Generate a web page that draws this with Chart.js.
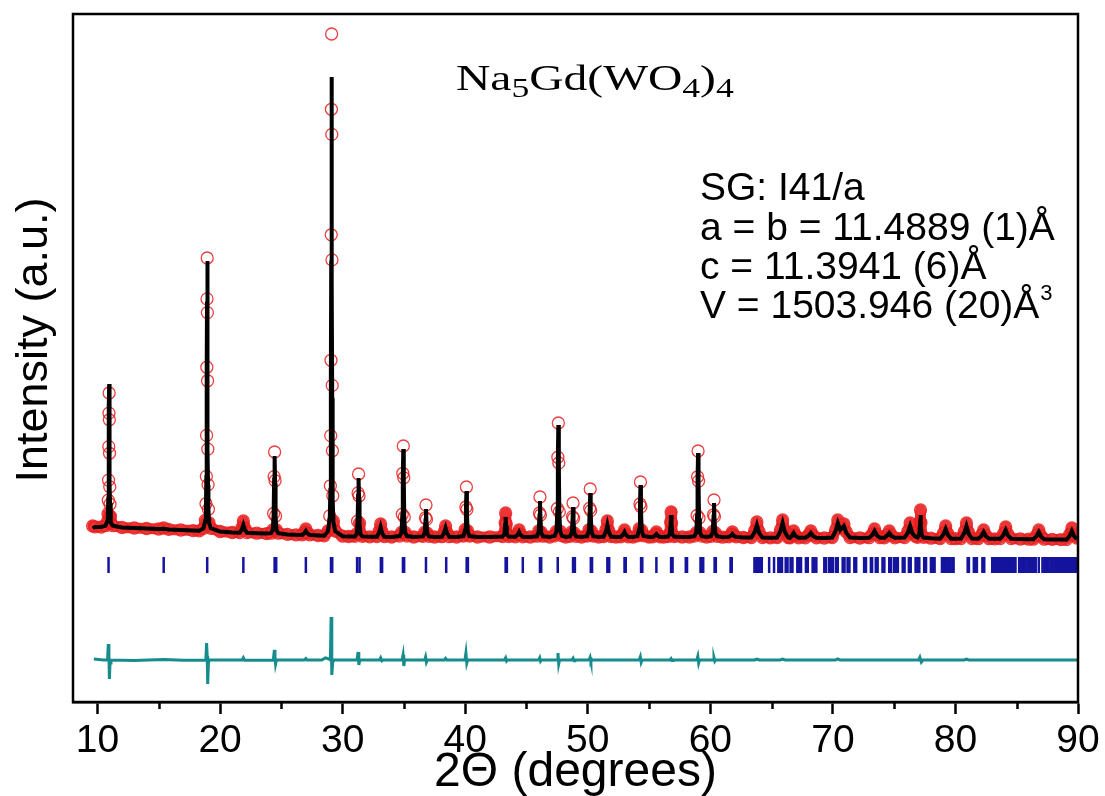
<!DOCTYPE html>
<html>
<head>
<meta charset="utf-8">
<script src="https://cdn.jsdelivr.net/npm/chart.js@4.4.1/dist/chart.umd.min.js"></script>
<style>
  html, body { margin: 0; padding: 0; background: #ffffff; }
  canvas { display: block; }
</style>
</head>
<body>
<canvas id="c" width="1105" height="796"></canvas>
<script>
// ---------- DATA ----------
const xTickValues = [10, 20, 30, 40, 50, 60, 70, 80, 90];
const xMinorTicks = [15, 25, 35, 45, 55, 65, 75, 85];

// 2-theta positions shared by observed and calculated profiles
const twoTheta = [
  9.6, 9.8, 10.3,
  10.65, 10.8, 10.85, 10.88, 10.9, 10.92, 10.935, 10.95, 10.965, 10.98, 11.0, 11.02, 11.05, 11.1, 11.25,
  12.0, 13.0, 14.0, 15.0, 15.4, 15.8, 16.8, 17.8, 18.3,
  18.65, 18.8, 18.85, 18.88, 18.9, 18.92, 18.935, 18.95, 18.965, 18.98, 19.0, 19.02, 19.05, 19.1, 19.25,
  20.0, 21.0,
  21.6, 21.78, 21.9, 22.02, 22.2,
  23.0, 23.8,
  24.15, 24.3, 24.37, 24.41, 24.45, 24.49, 24.53, 24.6, 24.75,
  25.5, 26.2,
  26.7, 26.88, 27.0, 27.12, 27.3,
  28.0, 28.5,
  28.8, 28.95, 29.0, 29.03, 29.05, 29.07, 29.085, 29.1, 29.115, 29.13, 29.15, 29.17, 29.2, 29.25, 29.4,
  30.0, 30.5,
  31.0, 31.15, 31.22, 31.26, 31.3, 31.34, 31.38, 31.45, 31.6,
  32.2,
  32.8, 32.98, 33.1, 33.22, 33.4,
  34.0,
  34.65, 34.8, 34.87, 34.91, 34.95, 34.99, 35.03, 35.1, 35.25,
  35.8,
  36.55, 36.7, 36.76, 36.8, 36.84, 36.9, 37.05,
  37.5,
  38.1, 38.28, 38.4, 38.52, 38.7,
  39.3,
  39.85, 40.0, 40.06, 40.1, 40.14, 40.2, 40.35,
  41.0, 42.0,
  43.05, 43.2, 43.26, 43.3, 43.34, 43.4, 43.55,
  44.1, 44.28, 44.4, 44.52, 44.7,
  45.3,
  45.85, 46.0, 46.06, 46.1, 46.14, 46.2, 46.35,
  46.9,
  47.3, 47.45, 47.52, 47.56, 47.6, 47.64, 47.68, 47.75, 47.9,
  48.2,
  48.55, 48.7, 48.76, 48.8, 48.84, 48.9, 49.05,
  49.5,
  49.95, 50.1, 50.16, 50.2, 50.24, 50.3, 50.45,
  50.9,
  51.3, 51.48, 51.6, 51.72, 51.9,
  52.3,
  52.7, 52.88, 53.0, 53.12, 53.3,
  53.7,
  54.05, 54.2, 54.26, 54.3, 54.34, 54.4, 54.55,
  55.0,
  55.3, 55.48, 55.6, 55.72, 55.9,
  56.2,
  56.55, 56.7, 56.76, 56.8, 56.84, 56.9, 57.05,
  57.7, 58.3,
  58.7, 58.85, 58.92, 58.96, 59.0, 59.04, 59.08, 59.15, 59.3,
  59.7,
  60.05, 60.2, 60.26, 60.3, 60.34, 60.4, 60.55,
  61.0,
  61.5, 61.68, 61.8, 61.92, 62.1,
  62.7,
  63.35, 63.62, 63.8, 63.98, 64.25,
  64.9,
  65.45, 65.72, 65.9, 66.08, 66.35,
  66.5, 66.65, 66.8, 66.95, 67.2,
  67.75, 68.02, 68.2, 68.38, 68.65,
  69.3,
  69.95, 70.22, 70.4, 70.6, 70.9, 71.1, 71.4,
  72.2,
  72.95, 73.22, 73.4, 73.58, 73.85,
  74.2, 74.42, 74.6, 74.78, 75.05,
  75.85, 76.12, 76.3, 76.48, 76.7,
  76.9, 77.05, 77.11, 77.15, 77.19, 77.25, 77.4,
  78.0,
  78.75, 79.02, 79.2, 79.38, 79.65,
  80.0,
  80.45, 80.72, 80.9, 81.08, 81.35,
  81.85, 82.12, 82.3, 82.48, 82.75,
  83.2,
  83.65, 83.92, 84.1, 84.28, 84.55,
  85.3, 86.0,
  86.35, 86.62, 86.8, 86.98, 87.25,
  87.9, 88.6,
  89.05, 89.32, 89.5, 89.68, 89.9
];

const yObs = [
  1760, 1752, 1750,
  1763, 1804, 1884, 2018, 2219, 2554, 2889, 3090, 2822, 2487, 2152, 1978, 1857, 1790, 1763,
  1745, 1740, 1735, 1730, 1740, 1726, 1720, 1714, 1712,
  1737, 1819, 1983, 2256, 2666, 3348, 4031, 4440, 3894, 3212, 2529, 2174, 1928, 1792, 1737,
  1705, 1695,
  1694, 1744, 1810, 1738, 1694,
  1688, 1684,
  1688, 1721, 1885, 2254, 2500, 2213, 1860, 1721, 1688,
  1676, 1672,
  1672, 1697, 1730, 1694, 1672,
  1665, 1662,
  1710, 1861, 2162, 2664, 3417, 4672, 5927, 6680, 5676, 4421, 3166, 2513, 2062, 1811, 1710,
  1658, 1655,
  1656, 1682, 1808, 2091, 2280, 2060, 1789, 1682, 1656,
  1652,
  1654, 1709, 1780, 1702, 1654,
  1650,
  1659, 1696, 1878, 2287, 2560, 2242, 1850, 1696, 1659,
  1650,
  1656, 1698, 1842, 1970, 1826, 1688, 1656,
  1650,
  1653, 1700, 1760, 1694, 1653,
  1650,
  1660, 1725, 1950, 2150, 1925, 1710, 1660,
  1650, 1650,
  1655, 1686, 1794, 1890, 1782, 1679, 1655,
  1652, 1682, 1720, 1678, 1652,
  1650,
  1658, 1710, 1890, 2050, 1870, 1698, 1658,
  1650,
  1661, 1707, 1935, 2448, 2790, 2391, 1901, 1707, 1661,
  1650,
  1657, 1701, 1854, 1990, 1837, 1691, 1657,
  1650,
  1660, 1722, 1938, 2130, 1914, 1708, 1660,
  1650,
  1655, 1722, 1810, 1714, 1655,
  1650,
  1652, 1682, 1720, 1678, 1652,
  1650,
  1661, 1733, 1980, 2200, 1953, 1716, 1661,
  1650,
  1652, 1673, 1700, 1670, 1652,
  1650,
  1655, 1688, 1800, 1900, 1788, 1680, 1655,
  1650, 1650,
  1659, 1693, 1865, 2252, 2510, 2209, 1839, 1693, 1659,
  1650,
  1657, 1706, 1872, 2020, 1854, 1694, 1657,
  1648,
  1652, 1673, 1700, 1670, 1652,
  1645,
  1645, 1712, 1800, 1704, 1645,
  1642,
  1645, 1721, 1820, 1712, 1645,
  1642, 1672, 1710, 1668, 1642,
  1642, 1672, 1710, 1668, 1642,
  1640,
  1645, 1721, 1820, 1740, 1780, 1700, 1645,
  1640,
  1643, 1680, 1730, 1676, 1643,
  1642, 1672, 1710, 1668, 1642,
  1645, 1707, 1790, 1700, 1660,
  1646, 1682, 1808, 1920, 1794, 1674, 1646,
  1638,
  1634, 1689, 1760, 1682, 1634,
  1633,
  1635, 1702, 1790, 1694, 1635,
  1633, 1670, 1720, 1666, 1633,
  1632,
  1634, 1684, 1750, 1678, 1634,
  1630, 1628,
  1628, 1668, 1720, 1663, 1628,
  1626, 1624,
  1624, 1675, 1740, 1670, 1640
];

const yCalc = [
  1740, 1750, 1750,
  1764, 1807, 1893, 2036, 2251, 2608, 2966, 3180, 2894, 2537, 2179, 1993, 1864, 1793, 1764,
  1745, 1740, 1735, 1730, 1732, 1726, 1720, 1714, 1712,
  1737, 1818, 1980, 2250, 2655, 3330, 4005, 4410, 3870, 3195, 2520, 2169, 1926, 1791, 1737,
  1705, 1695,
  1692, 1726, 1770, 1722, 1692,
  1688, 1684,
  1688, 1719, 1875, 2226, 2460, 2187, 1852, 1719, 1688,
  1676, 1672,
  1671, 1688, 1710, 1686, 1671,
  1665, 1662,
  1706, 1844, 2119, 2578, 3267, 4414, 5562, 6250, 5332, 4185, 3037, 2440, 2027, 1798, 1706,
  1658, 1655,
  1656, 1680, 1798, 2063, 2240, 2034, 1780, 1680, 1656,
  1652,
  1653, 1695, 1750, 1690, 1653,
  1650,
  1659, 1694, 1870, 2266, 2530, 2222, 1844, 1694, 1659,
  1650,
  1656, 1692, 1818, 1930, 1804, 1684, 1656,
  1650,
  1653, 1691, 1740, 1686, 1653,
  1650,
  1659, 1719, 1926, 2110, 1903, 1705, 1659,
  1650, 1650,
  1654, 1680, 1770, 1850, 1760, 1674, 1654,
  1652, 1673, 1700, 1670, 1652,
  1650,
  1657, 1704, 1866, 2010, 1848, 1693, 1657,
  1650,
  1661, 1706, 1930, 2434, 2770, 2378, 1896, 1706, 1661,
  1650,
  1656, 1695, 1830, 1950, 1815, 1686, 1656,
  1650,
  1659, 1716, 1914, 2090, 1892, 1703, 1659,
  1650,
  1654, 1704, 1770, 1698, 1654,
  1650,
  1652, 1673, 1700, 1670, 1652,
  1650,
  1660, 1728, 1962, 2170, 1936, 1712, 1660,
  1650,
  1651, 1664, 1680, 1662, 1651,
  1650,
  1654, 1683, 1782, 1870, 1771, 1676, 1654,
  1650, 1650,
  1658, 1692, 1860, 2238, 2490, 2196, 1835, 1692, 1658,
  1650,
  1657, 1701, 1854, 1990, 1837, 1691, 1657,
  1648,
  1651, 1664, 1680, 1662, 1651,
  1645,
  1644, 1699, 1770, 1692, 1644,
  1642,
  1645, 1708, 1790, 1700, 1645,
  1642, 1663, 1690, 1660, 1642,
  1642, 1663, 1690, 1660, 1642,
  1640,
  1645, 1708, 1790, 1720, 1760, 1690, 1644,
  1640,
  1642, 1671, 1710, 1668, 1642,
  1642, 1663, 1690, 1660, 1642,
  1644, 1694, 1760, 1688, 1656,
  1645, 1675, 1778, 1870, 1767, 1668, 1645,
  1638,
  1633, 1675, 1730, 1670, 1633,
  1633,
  1634, 1689, 1760, 1682, 1634,
  1632, 1661, 1700, 1658, 1632,
  1632,
  1633, 1671, 1720, 1666, 1633,
  1630, 1628,
  1627, 1659, 1700, 1655, 1627,
  1626, 1624,
  1623, 1661, 1710, 1658, 1630
];

// difference curve (offset, same arbitrary units)
const diffX = [
  9.7, 10.5, 10.82, 10.88, 10.93, 10.97, 11.02, 11.1,
  13.0, 15.4, 17.0,
  18.84, 18.9, 18.95, 18.99, 19.05, 19.12,
  21.8, 21.9, 22.0,
  24.35, 24.43, 24.48, 24.53, 24.6,
  26.9, 27.0, 27.1,
  28.3, 28.6, 28.9, 29.0, 29.06, 29.1, 29.13, 29.19, 29.26,
  31.18, 31.26, 31.32, 31.4,
  33.0, 33.1, 33.2, 33.3,
  34.85, 34.93, 34.99, 35.06,
  36.7, 36.77, 36.84, 36.92,
  38.3, 38.4, 38.5,
  39.98, 40.06, 40.13, 40.2,
  43.2, 43.3, 43.38, 43.45,
  46.0, 46.08, 46.15, 46.22,
  47.5, 47.57, 47.63, 47.7,
  48.7, 48.8, 48.88, 48.95,
  50.1, 50.19, 50.26, 50.33,
  54.2, 54.29, 54.36, 54.43,
  56.7, 56.8, 56.88, 56.95,
  58.9, 58.98, 59.05, 59.12,
  60.22, 60.3, 60.37, 60.44,
  63.6, 63.8, 64.0, 65.7, 65.9, 66.1, 70.2, 70.4, 70.6,
  77.0, 77.1, 77.22, 77.35, 80.7, 80.9, 81.1, 90.0
];
const diffY = [
  430, 420, 420, 580, 470, 230, 390, 420,
  416, 424, 418,
  420, 590, 460, 180, 390, 420,
  420, 442, 418,
  420, 520, 450, 380, 420,
  420, 434, 420,
  420, 442, 430, 420, 850, 480, 270, 395, 420,
  420, 500, 370, 420,
  420, 442, 412, 420,
  420, 470, 360, 420,
  420, 450, 398, 420,
  420, 436, 420,
  420, 490, 390, 420,
  420, 442, 410, 420,
  420, 442, 408, 420,
  420, 490, 380, 420,
  420, 438, 412, 420,
  420, 446, 404, 420,
  420, 452, 398, 420,
  420, 434, 414, 420,
  420, 456, 390, 420,
  420, 442, 408, 420,
  420, 428, 420, 420, 430, 420, 420, 432, 420,
  420, 446, 400, 420, 420, 428, 420, 420
];

// Bragg reflection positions (2-theta)
const braggPositions = [
  10.9, 15.4, 18.95, 21.9, 24.45, 24.58, 27.0, 29.05, 29.15, 31.18, 31.38,
  33.12, 33.22, 34.92, 35.02, 36.8, 38.45, 40.12, 40.22, 43.3, 43.4, 44.7,
  46.1, 46.2, 47.55, 48.8, 48.95, 50.25, 50.35, 51.6, 51.75, 53.0, 53.1,
  54.35, 54.45, 55.6, 56.8, 56.92, 58.0, 58.1, 59.2, 59.32, 59.42, 60.35, 60.45,
  61.65, 61.75,
  63.6, 63.75, 63.9, 64.05, 64.2, 64.8, 65.2, 65.55, 65.7, 65.85, 66.15, 66.3,
  66.55, 66.7, 67.1, 67.25, 67.4, 67.8, 67.95, 68.35, 68.5, 68.65, 69.3, 69.45,
  69.7, 69.85, 70.0, 70.25, 70.4, 70.8, 70.95, 71.2, 71.35, 71.75, 71.9, 72.55,
  72.7, 73.1, 73.2, 73.5, 73.65, 74.05, 74.2, 74.6, 74.75, 75.0, 75.15, 75.3,
  75.7, 75.85, 76.2, 76.35, 76.75, 76.9, 77.05, 77.45, 77.6, 78.0, 78.15, 78.3,
  78.9, 79.0, 79.1, 79.2, 79.3, 79.4, 79.5, 79.6, 79.75, 79.85,
  81.0, 81.1, 81.5, 81.6, 81.75, 82.2, 82.35, 83.0, 83.1, 83.2, 83.3, 83.4,
  83.5, 83.6, 83.7, 83.8, 83.9, 84.0, 84.1, 84.2, 84.3, 84.4, 84.5, 84.6,
  84.7, 84.8, 84.9, 85.2, 85.35, 85.5, 85.65, 85.8, 85.95, 86.1, 86.25, 86.4,
  86.55, 86.8, 87.1, 87.25, 87.4, 87.5, 87.6, 87.75, 87.9, 88.0, 88.15, 88.3,
  88.4, 88.55, 88.7, 88.8, 88.95, 89.1, 89.2, 89.35, 89.5, 89.6, 89.75, 89.9
];
const braggLevel = 1370;

const formulaParts = [['Na', false], ['5', true], ['Gd(WO', false], ['4', true], [')', false], ['4', true]];
const latticeLines = ['SG: I41/a', 'a = b = 11.4889 (1)Å', 'c = 11.3941 (6)Å', 'V = 1503.946 (20)Å'];
const volumeExponent = '3';
const xTitle = '2Θ (degrees)';
const yTitle = 'Intensity (a.u.)';

// ---------- CHART ----------
const SANS = '"Liberation Sans", Arial, Helvetica, sans-serif';
const SERIF = '"Liberation Serif", "Times New Roman", serif';
const OBS_RED = 'rgba(236,34,34,0.92)';

const pts = (xs, ys) => xs.map((x, i) => ({ x: x, y: ys[i] }));

const decorPlugin = {
  id: 'decor',
  afterDraw(chart) {
    const c = chart.ctx;
    const a = chart.chartArea;
    const xs = chart.scales.x;
    c.save();
    // frame
    c.strokeStyle = '#000';
    c.lineWidth = 2.5;
    c.strokeRect(a.left, a.top, a.right - a.left, a.bottom - a.top);
    // minor ticks
    c.beginPath();
    xMinorTicks.forEach(v => {
      const px = Math.round(xs.getPixelForValue(v)) + 0.5;
      c.moveTo(px, a.bottom);
      c.lineTo(px, a.bottom + 7);
    });
    c.stroke();
    // y title
    c.fillStyle = '#000';
    c.save();
    c.translate(35, 340);
    c.rotate(-Math.PI / 2);
    c.font = '45px ' + SANS;
    c.textAlign = 'center';
    c.textBaseline = 'middle';
    c.fillText(yTitle, 0, 0);
    c.restore();
    // formula (slightly widened serif, as in the reference)
    c.save();
    c.translate(456, 90);
    c.scale(1.32, 1);
    let fx = 0;
    c.textAlign = 'left';
    c.textBaseline = 'alphabetic';
    formulaParts.forEach(([t, sub]) => {
      c.font = (sub ? '27px ' : '36px ') + SERIF;
      c.fillText(t, fx, sub ? 7 : 0);
      fx += c.measureText(t).width;
    });
    c.restore();
    // lattice parameters
    c.font = '39px ' + SANS;
    c.textAlign = 'left';
    c.textBaseline = 'alphabetic';
    const baselines = [200, 240, 279, 318];
    latticeLines.forEach((t, i) => c.fillText(t, 700, baselines[i]));
    const w = c.measureText(latticeLines[3]).width;
    c.font = '22px ' + SANS;
    c.fillText(volumeExponent, 700 + w + 1, 300);
    c.restore();
  }
};

new Chart(document.getElementById('c'), {
  type: 'scatter',
  data: {
    datasets: [
      {
        label: 'Calculated',
        data: pts(twoTheta, yCalc),
        showLine: true,
        borderColor: '#000000',
        borderWidth: 4,
        pointRadius: 0,
        order: 0
      },
      {
        label: 'Observed',
        data: pts(twoTheta, yObs),
        showLine: true,
        borderColor: OBS_RED,
        borderWidth: 11,
        borderCapStyle: 'round',
        borderJoinStyle: 'round',
        segment: {
          borderColor: ctx => Math.abs(ctx.p1.parsed.y - ctx.p0.parsed.y) > 120 ? 'rgba(0,0,0,0)' : OBS_RED
        },
        pointRadius: 6,
        pointBorderWidth: 1.3,
        pointBorderColor: 'rgba(230,30,30,0.85)',
        pointBackgroundColor: 'rgba(255,255,255,0)',
        order: 1
      },
      {
        label: 'Difference',
        data: pts(diffX, diffY),
        showLine: true,
        borderColor: '#178c8c',
        borderWidth: 3,
        pointRadius: 0,
        order: 2
      },
      {
        label: 'Bragg positions',
        data: braggPositions.map(x => ({ x: x, y: braggLevel })),
        showLine: false,
        pointStyle: 'line',
        rotation: 90,
        pointRadius: 8,
        pointBorderWidth: 2.5,
        pointBorderColor: '#14149e',
        order: 3
      }
    ]
  },
  options: {
    responsive: false,
    animation: false,
    devicePixelRatio: 1,
    layout: { padding: { left: 73, right: 27, top: 14, bottom: 0 } },
    plugins: { legend: { display: false }, tooltip: { enabled: false } },
    scales: {
      x: {
        type: 'linear',
        min: 8,
        max: 90,
        afterBuildTicks: s => { s.ticks = xTickValues.map(v => ({ value: v })); },
        afterFit: s => { s.height = 94; },
        grid: { display: true, drawOnChartArea: false, drawTicks: true, tickLength: 12, tickWidth: 2.5, tickColor: '#000' },
        border: { display: true, color: '#000', width: 2.5 },
        ticks: { color: '#000', font: { family: SANS, size: 39 }, padding: 4, maxRotation: 0, autoSkip: false },
        title: { display: true, text: xTitle, color: '#000', font: { family: SANS, size: 48, lineHeight: 0.95 }, padding: { top: 0, bottom: 0 } }
      },
      y: { display: false, min: 0, max: 6880 }
    }
  },
  plugins: [decorPlugin]
});
</script>
</body>
</html>
